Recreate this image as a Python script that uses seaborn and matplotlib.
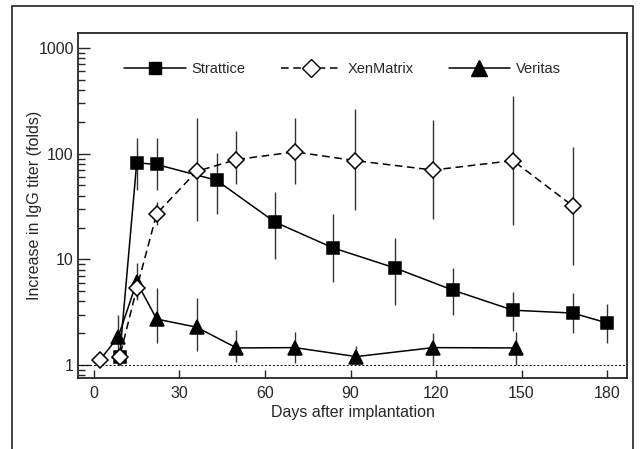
import numpy as np
import pandas as pd
import seaborn as sns
import matplotlib.pyplot as plt
from matplotlib.patches import Rectangle
from matplotlib.lines import Line2D

# data
strattice_days = [9, 15, 22, 43, 63.5, 84, 105.5, 126, 147, 168, 180]
strattice_vals = [1.19, 82, 79, 56, 22.5, 12.8, 8.3, 5.1, 3.3, 3.1, 2.5]
strattice_hi = [1.3, 141, 141, 102, 43, 27, 16, 8.2, 4.9, 4.8, 3.8]
strattice_lo = [1.1, 45, 45, 27, 10, 6.1, 3.7, 3.0, 2.1, 2.0, 1.6]

xen_days = [2, 9, 15, 22, 36, 50, 70.5, 91.5, 119, 147, 168]
xen_vals = [1.11, 1.19, 5.3, 27, 68, 88, 104, 86, 70, 86, 32]
xen_hi = [1.2, 1.3, 6.5, 35, 218, 165, 218, 265, 209, 353, 116]
xen_lo = [1.02, 1.1, 4.3, 21, 23, 52, 52, 29, 24, 21, 8.8]

ver_days = [2, 8.5, 15, 22, 36, 50, 70.5, 92, 119, 148]
ver_vals = [1.11, 1.84, 6.1, 2.72, 2.28, 1.45, 1.46, 1.2, 1.46, 1.45]
ver_hi = [1.2, 2.96, 9.2, 5.3, 4.3, 2.14, 2.05, 1.5, 2.0, 2.05]
ver_lo = [1.0, 1.0, 4.1, 1.6, 1.36, 1.07, 1.04, 1.0, 1.0, 1.0]

sns.set_style("ticks")
plt.rcParams['font.family'] = ['Liberation Sans', 'DejaVu Sans']
plt.rcParams['font.size'] = 11.5

fig = plt.figure(figsize=(6.43, 4.49), dpi=100)
ax = fig.add_axes([78 / 643, 1 - 378 / 449, 549 / 643, 345 / 449])

# outer frame
fig.patches.append(Rectangle((12 / 643, -0.05), 621 / 643, 1.05 - 6 / 449,
                             transform=fig.transFigure, fill=False,
                             edgecolor='#222222', linewidth=1.2))

ax.axhline(1, color='black', ls=(0, (2, 2)), lw=0.7, zorder=1)

series = [
    ("Strattice", strattice_days, strattice_vals, strattice_hi, strattice_lo,
     's', 'black', '-', 8.5, 4),
    ("Veritas", ver_days, ver_vals, ver_hi, ver_lo, '^', 'black', '-', 10, 3),
    ("XenMatrix", xen_days, xen_vals, xen_hi, xen_lo, 'D', 'white', (0, (5, 3)), 8.5, 5),
]

for name, d, v, hi, lo, mk, fc, ls, ms, z in series:
    ax.vlines(d, lo, hi, color='#333333', lw=1.0, zorder=2)
    df = pd.DataFrame({"day": d, "val": v})
    # the first Veritas point sits hidden under the XenMatrix diamond
    every = list(range(1, len(d))) if name == "Veritas" else None
    sns.lineplot(data=df, x="day", y="val", ax=ax, color='black', lw=1.1,
                 linestyle=ls, marker=mk, markersize=ms, markerfacecolor=fc,
                 markeredgecolor='black', markeredgewidth=1.1, zorder=z,
                 markevery=every, legend=False)

ax.set_yscale('log')
ax.set_xlim(-5.6, 187)
ax.set_ylim(0.753, 1387)
ax.set_xticks([0, 30, 60, 90, 120, 150, 180])
ax.set_yticks([1, 10, 100, 1000])
ax.set_yticklabels(['1', '10', '100', '1000'])
ax.tick_params(axis='y', which='major', direction='in', length=8.5, width=1)
ax.tick_params(axis='y', which='minor', direction='in', length=5, width=1)
ax.tick_params(axis='x', which='major', direction='in', length=5.5, width=1)
ax.tick_params(axis='y', labelsize=11.5, pad=3)
ax.tick_params(axis='x', labelsize=11.5, pad=6)
ax.set_xlabel("Days after implantation", fontsize=11.5, labelpad=3)
ax.set_ylabel("Increase in IgG titer (folds)", fontsize=11.5)
ax.yaxis.set_label_coords(-0.066, 0.5)
for s in ax.spines.values():
    s.set_linewidth(1.3)
    s.set_visible(True)

handles = [
    Line2D([], [], color='black', lw=1.1, marker='s', markersize=9,
           markerfacecolor='black'),
    Line2D([], [], color='black', lw=1.1, ls=(0, (5, 3)), marker='D',
           markersize=9, markerfacecolor='white'),
    Line2D([], [], color='black', lw=1.1, marker='^', markersize=11,
           markerfacecolor='black'),
]
ax.legend(handles, ["Strattice", "XenMatrix", "Veritas"], ncol=3,
          frameon=False, loc='center', bbox_to_anchor=(0.482, 0.896),
          handlelength=4.2, handletextpad=0.4, columnspacing=2.4,
          fontsize=10.5)

fig.savefig("out.png", dpi=100)
